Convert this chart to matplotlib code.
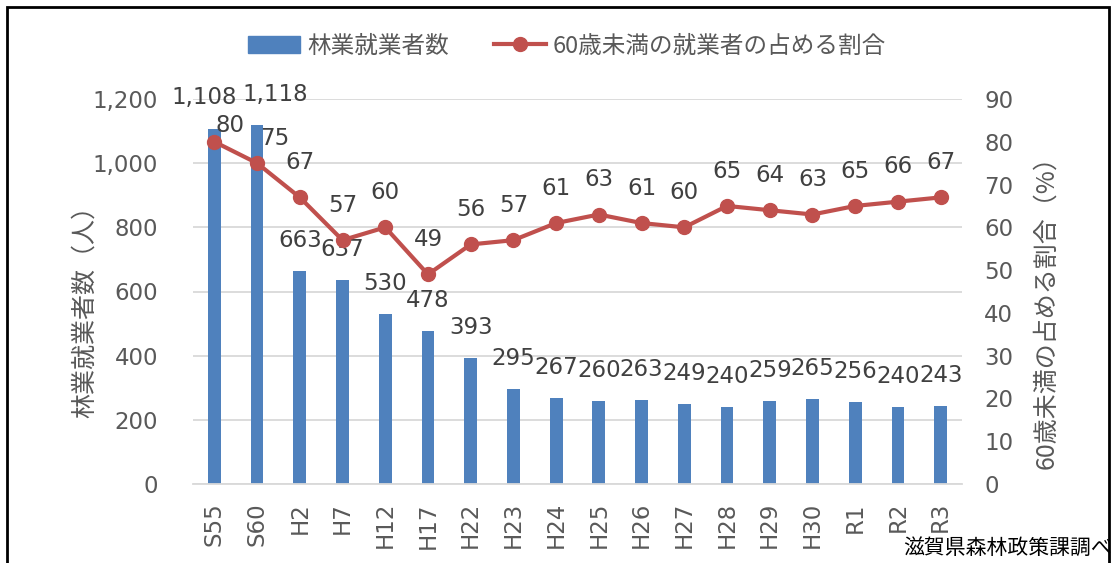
import matplotlib
matplotlib.use("Agg")
import matplotlib.pyplot as plt
from matplotlib.patches import Rectangle
from matplotlib.lines import Line2D
import numpy as np

plt.rcParams['font.family'] = ['Noto Sans CJK JP', 'DejaVu Sans']

categories = ["S55", "S60", "H2", "H7", "H12", "H17", "H22", "H23", "H24", "H25",
              "H26", "H27", "H28", "H29", "H30", "R1", "R2", "R3"]
workers = [1108, 1118, 663, 637, 530, 478, 393, 295, 267, 260, 263, 249, 240, 259, 265, 256, 240, 243]
under60_pct = [80, 75, 67, 57, 60, 49, 56, 57, 61, 63, 61, 60, 65, 64, 63, 65, 66, 67]
left_ticks = [0, 200, 400, 600, 800, 1000, 1200]
right_ticks = [0, 10, 20, 30, 40, 50, 60, 70, 80, 90]

BAR = "#4F81BD"
LINE = "#C0504D"
GRAY = "#595959"
LBL = "#404040"
NUMFONT = ["DejaVu Sans"]
NUMSIZE = 16.5

W, H = 1113, 563
fig = plt.figure(figsize=(W / 100, H / 100), dpi=100)
ax = fig.add_axes([193 / W, 1 - 484 / H, (962 - 193) / W, (484 - 99) / H])
ax2 = ax.twinx()

x = np.arange(len(categories))
ax.bar(x, workers, width=0.3, color=BAR, zorder=2)
ax.set_xlim(-0.5, len(categories) - 0.5)
ax.set_ylim(0, 1200)
ax.set_yticks(left_ticks)
ax.set_yticklabels([f"{v:,}" for v in left_ticks], family=NUMFONT, fontsize=NUMSIZE, color=GRAY)
ax.grid(axis="y", color="#D9D9D9", linewidth=1.3, zorder=0)
ax.set_axisbelow(True)
for s in ["top", "right", "left"]:
    ax.spines[s].set_visible(False)
ax.spines["bottom"].set_color("#D9D9D9")
ax.spines["bottom"].set_linewidth(1.3)
ax.set_xticks(x)
ax.set_xticklabels(categories, rotation=90, family=NUMFONT, fontsize=NUMSIZE, color=GRAY)
ax.tick_params(axis="both", length=0, colors=GRAY)
ax.tick_params(axis="x", pad=13)
ax.tick_params(axis="y", pad=25)
ax.set_ylabel("林業就業者数（人）", fontsize=18, color=GRAY)
ax.yaxis.set_label_coords((85 - 193) / 769, (484 - 305) / 385)
ax.yaxis.label.set_va("center")

bar_label_dx = {0: -7, 1: 13}
for i, (xi, v) in enumerate(zip(x, workers)):
    ax.annotate(f"{v:,}", (xi, v), xytext=(bar_label_dx.get(i, 0), 22), textcoords="offset points",
                ha="center", va="center", family=NUMFONT, fontsize=NUMSIZE,
                color=LBL, zorder=5, annotation_clip=False)

ax2.plot(x, under60_pct, color=LINE, linewidth=3, marker="o", markersize=10, zorder=4)
ax2.set_ylim(0, 90)
ax2.set_yticks(right_ticks)
ax2.set_yticklabels([str(v) for v in right_ticks], family=NUMFONT, fontsize=NUMSIZE, color=GRAY)
for s in ["top", "right", "left", "bottom"]:
    ax2.spines[s].set_visible(False)
ax2.tick_params(axis="y", length=0, colors=GRAY, pad=16)
ax2.set_ylabel("60歳未満の占める割合（%）", fontsize=18, color=GRAY, rotation=90)
ax2.yaxis.set_label_coords((1046 - 193) / 769, (484 - 306) / 385)
ax2.yaxis.label.set_va("center")

line_label_dx = {0: 11, 1: 13}
line_label_dy = {0: 12, 1: 18}
for i, (xi, v) in enumerate(zip(x, under60_pct)):
    ax2.annotate(f"{v}", (xi, v), xytext=(line_label_dx.get(i, 0), line_label_dy.get(i, 25)),
                 textcoords="offset points", ha="center", va="center",
                 family=NUMFONT, fontsize=NUMSIZE, color=LBL, zorder=6,
                 annotation_clip=False)

handles = [Rectangle((0, 0), 1, 1, color=BAR),
           Line2D([0], [0], color=LINE, linewidth=3, marker="o", markersize=10)]
fig.legend(handles, ["林業就業者数", "60歳未満の就業者の占める割合"],
           loc="center", bbox_to_anchor=(567 / W, 1 - 46 / H), ncol=2, frameon=False,
           fontsize=17, labelcolor=GRAY, handlelength=2.2, columnspacing=1.9,
           handletextpad=0.3)

fig.text(903 / W, 1 - 548 / H, "滋賀県森林政策課調べ", fontsize=15, color="black",
         ha="left", va="center")

fig.patches.append(Rectangle((7 / W, -0.05), (1109 - 7) / W, 1.05 - 7 / H,
                             transform=fig.transFigure, fill=False,
                             edgecolor="black", linewidth=2, zorder=10))

fig.savefig("out.png", dpi=100)
